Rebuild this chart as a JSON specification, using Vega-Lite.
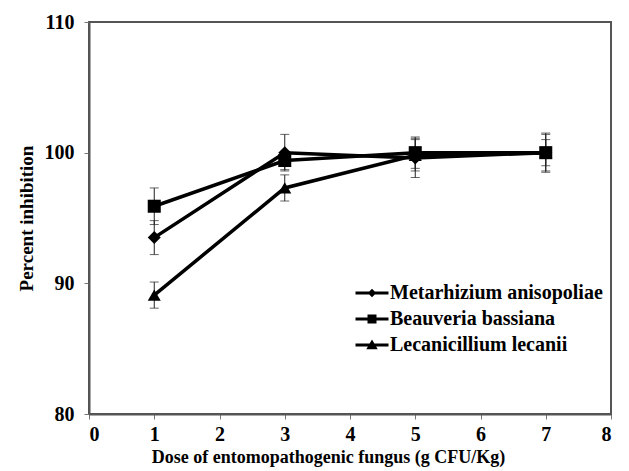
{
  "$schema": "https://vega.github.io/schema/vega-lite/v6.json",
  "width": 522,
  "height": 392,
  "autosize": {"type": "none"},
  "padding": {"left": 89, "top": 22, "right": 18, "bottom": 57},
  "background": "white",
  "config": {
    "view": {"stroke": "#555555", "strokeWidth": 2},
    "font": "Liberation Serif",
    "axis": {
      "grid": false,
      "domainColor": "#555555",
      "domainWidth": 2,
      "tickColor": "#777777",
      "tickSize": 5,
      "tickWidth": 1,
      "labelFont": "Liberation Serif",
      "labelFontSize": 20,
      "labelFontWeight": "bold",
      "labelColor": "black",
      "titleFont": "Liberation Serif",
      "titleFontSize": 18,
      "titleFontWeight": "bold",
      "titleColor": "black"
    }
  },
  "data": {
    "values": [
      {"species": "Metarhizium anisopoliae", "dose": 1, "mean": 93.5, "err": 1.3},
      {"species": "Metarhizium anisopoliae", "dose": 3, "mean": 100.0, "err": 1.4},
      {"species": "Metarhizium anisopoliae", "dose": 5, "mean": 99.6, "err": 1.5},
      {"species": "Metarhizium anisopoliae", "dose": 7, "mean": 100.0, "err": 1.4},
      {"species": "Beauveria bassiana", "dose": 1, "mean": 95.9, "err": 1.4},
      {"species": "Beauveria bassiana", "dose": 3, "mean": 99.4, "err": 0.7},
      {"species": "Beauveria bassiana", "dose": 5, "mean": 100.0, "err": 1.2},
      {"species": "Beauveria bassiana", "dose": 7, "mean": 100.0, "err": 1.0},
      {"species": "Lecanicillium lecanii", "dose": 1, "mean": 89.1, "err": 1.0},
      {"species": "Lecanicillium lecanii", "dose": 3, "mean": 97.3, "err": 1.0},
      {"species": "Lecanicillium lecanii", "dose": 5, "mean": 99.8, "err": 1.2},
      {"species": "Lecanicillium lecanii", "dose": 7, "mean": 100.0, "err": 1.5}
    ]
  },
  "encoding": {
    "x": {
      "field": "dose", "type": "quantitative",
      "scale": {"domain": [0, 8], "nice": false, "zero": false},
      "axis": {"values": [0,1,2,3,4,5,6,7,8], "title": "Dose of entomopathogenic fungus (g CFU/Kg)", "labelPadding": 5, "titlePadding": 4, "titleX": 239}
    },
    "y": {
      "field": "mean", "type": "quantitative",
      "scale": {"domain": [80, 110], "nice": false, "zero": false},
      "axis": {"values": [80, 90, 100, 110], "title": "Percent inhibition", "labelPadding": 10, "titlePadding": 8, "titleFontSize": 19}
    }
  },
  "layer": [
    {
      "mark": {"type": "errorbar", "ticks": {"size": 9, "color": "#222222"}, "rule": {"color": "#222222", "strokeWidth": 1}},
      "encoding": {
        "yError": {"field": "err"},
        "detail": {"field": "species"}
      }
    },
    {
      "mark": {"type": "line", "color": "black", "strokeWidth": 3.5},
      "encoding": {"detail": {"field": "species"}}
    },
    {
      "mark": {"type": "point", "filled": true, "color": "black", "opacity": 1, "size": 170},
      "encoding": {
        "shape": {
          "field": "species", "type": "nominal",
          "scale": {"domain": ["Metarhizium anisopoliae", "Beauveria bassiana", "Lecanicillium lecanii"], "range": ["diamond", "square", "triangle-up"]},
          "legend": null
        }
      }
    },
    {
      "transform": [{"filter": "false"}],
      "mark": {"type": "point", "filled": true, "color": "black", "opacity": 1},
      "encoding": {
        "shape": {
          "field": "species", "type": "nominal",
          "scale": {
            "domain": ["Metarhizium anisopoliae", "Beauveria bassiana", "Lecanicillium lecanii"],
            "range": [
              "M-3.3,-0.3L3.3,-0.3L3.3,0.3L-3.3,0.3Z M0,-0.85L0.85,0L0,0.85L-0.85,0Z",
              "M-3.3,-0.3L3.3,-0.3L3.3,0.3L-3.3,0.3Z M-0.9,-0.9L0.9,-0.9L0.9,0.9L-0.9,0.9Z",
              "M-3.3,-0.3L3.3,-0.3L3.3,0.3L-3.3,0.3Z M0,-1.1L1.15,0.85L-1.15,0.85Z"
            ]
          },
          "legend": {
            "orient": "none",
            "legendX": 273,
            "legendY": 261,
            "padding": 0,
            "title": null,
            "labelFont": "Liberation Serif",
            "labelFontSize": 20,
            "labelFontWeight": "bold",
            "labelColor": "black",
            "labelLimit": 400,
            "labelOffset": 8,
            "symbolSize": 100,
            "symbolOffset": 0,
            "symbolFillColor": "black",
            "symbolStrokeWidth": 0,
            "rowPadding": 6,
            "encode": {
              "symbols": {
                "update": {
                  "fill": {"value": "black"},
                  "opacity": {"value": 1}
                }
              }
            }
          }
        }
      }
    }
  ],
  "resolve": {"scale": {"shape": "independent"}, "legend": {"shape": "independent"}}
}
